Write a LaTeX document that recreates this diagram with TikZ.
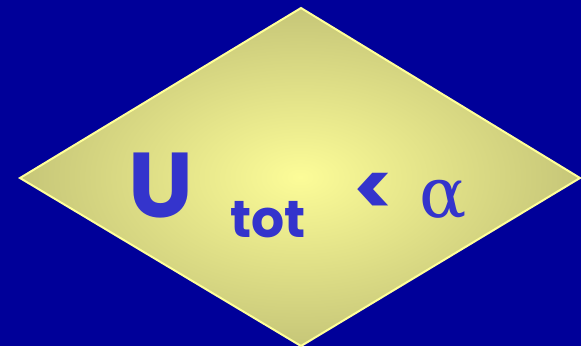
\documentclass[tikz,border=0pt]{standalone}
\usepackage{fontspec}
\newfontfamily\comicfont{Poppins}
\newfontfamily\alphafont{DejaVu Serif}
\definecolor{bgblue}{HTML}{000099}
\definecolor{rimyellow}{HTML}{FFFF99}
\definecolor{centeryellow}{HTML}{FCFC98}
\definecolor{edgeolive}{HTML}{C6C678}
\definecolor{inkblue}{HTML}{3434CC}
\tikzset{
  label text/.style={text=inkblue, inner sep=0pt, anchor=base west},
}
\begin{document}
\begin{tikzpicture}[x=1pt,y=-1pt]
\fill[bgblue] (0,0) rectangle (581,346);
\useasboundingbox (0,0) rectangle (581,346);
\coordinate (top) at (301,8);
\coordinate (left) at (20,178);
\coordinate (right) at (580,178);
\coordinate (bottom) at (301,346);
\path[inner color=centeryellow, outer color=edgeolive]
  (top) -- (right) -- (bottom) -- (left) -- cycle;
\draw[rimyellow, line width=2pt, line join=miter]
  (top) -- (right) -- (bottom) -- (left) -- cycle;
\node[label text, font=\comicfont\fontsize{92}{92}\selectfont\bfseries] (U) at (128,217) {U};
\node[label text, font=\comicfont\fontsize{52}{52}\selectfont\bfseries] (tot) at (230,237) {tot};
\node[label text, font=\comicfont\fontsize{74}{74}\selectfont\bfseries] (lt) at (353,215) {<};
\node[label text, font=\alphafont\fontsize{70}{70}\selectfont] (alpha) at (419,217) {α};
\end{tikzpicture}
\end{document}
